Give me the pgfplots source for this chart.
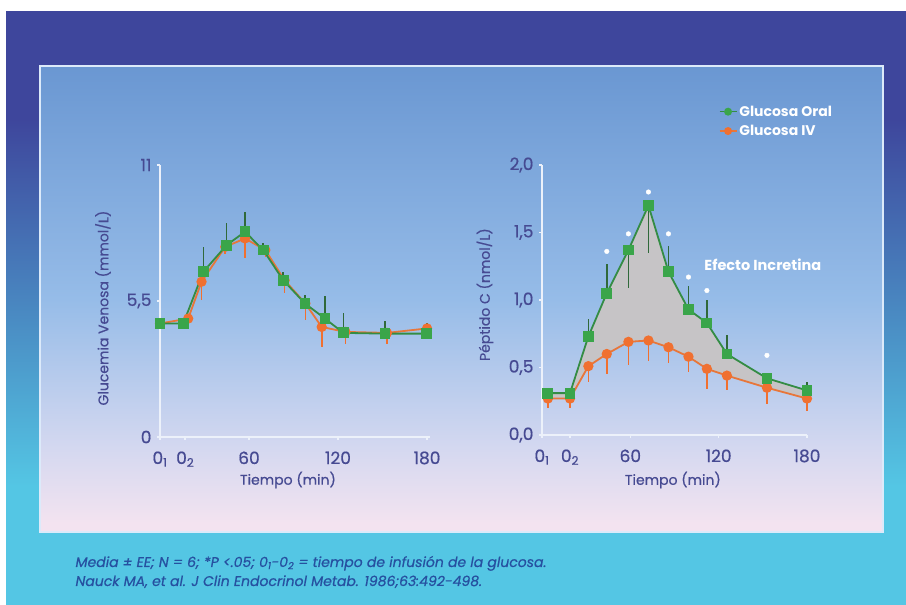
\documentclass[border=0pt]{standalone}
\usepackage{pgfplots}
\usepackage{pgfplotstable}
\pgfplotsset{compat=1.18}
\usepackage{fontspec}
\setmainfont{Poppins}
\newfontfamily\medfont{Poppins}[FakeBold=0.6]

\definecolor{dblue}{RGB}{62,70,156}
\definecolor{cyanbg}{RGB}{84,198,228}
\definecolor{ptop}{RGB}{106,151,210}
\definecolor{pmid}{RGB}{150,188,232}
\definecolor{plav}{RGB}{212,216,240}
\definecolor{pbot}{RGB}{243,227,240}
\definecolor{lblue}{RGB}{70,74,146}
\definecolor{gmark}{RGB}{58,165,74}
\definecolor{gline}{RGB}{52,140,68}
\definecolor{gerr}{RGB}{48,105,58}
\definecolor{omark}{RGB}{240,112,48}
\definecolor{oline}{RGB}{232,118,58}
\definecolor{fillg}{RGB}{198,196,198}
\definecolor{axw}{RGB}{236,241,250}
\definecolor{foot}{RGB}{38,80,160}
\definecolor{bord}{RGB}{220,234,250}

\pgfdeclareverticalshading{outerbg}{100bp}{color(0bp)=(cyanbg); color(35bp)=(cyanbg); color(66bp)=(dblue); color(100bp)=(dblue)}
\pgfdeclareverticalshading{panelbg}{100bp}{color(0bp)=(pbot); color(26bp)=(pbot); color(34bp)=(plav); color(50bp)=(pmid); color(75bp)=(ptop); color(100bp)=(ptop)}

\pgfplotstableread{
t v ep em
0 4.59 0.15 0
15.7 4.59 0.15 0
29.2 6.68 1.0 0
44.9 7.76 0.9 0
57.3 8.30 0.8 0
69.6 7.56 0.3 0
83.1 6.34 0.35 0
97.7 5.40 0.35 0
111.2 4.79 0.9 0
123.6 4.21 0.8 0
151.7 4.18 0.5 0
179.8 4.18 0.45 0
}\LeftOral

\pgfplotstableread{
t v ep em
0 4.59 0 0.1
19 4.79 0 0.1
28 6.28 0 0.75
44 7.69 0 0.3
57.3 8.03 0 0.8
71 7.56 0 0.3
84 6.34 0 0.5
98 5.40 0 0.68
109 4.45 0 0.81
125 4.25 0 0.47
153 4.21 0 0.43
180 4.39 0 0.2
}\LeftIV

\pgfplotstableread{
t v ep em
4 0.31 0.03 0.03
19 0.31 0.03 0.03
31.5 0.73 0.13 0
44 1.05 0.22 0
58.7 1.37 0 0.28
72.3 1.70 0 0.35
85.9 1.21 0.19 0
99.5 0.93 0.17 0
112 0.83 0.17 0
125.6 0.60 0.14 0
152.8 0.42 0.03 0.03
180 0.33 0.06 0
}\RightOral

\pgfplotstableread{
t v ep em
4 0.27 0 0.07
19 0.27 0 0.07
31.5 0.51 0 0.12
44 0.60 0 0.15
58.7 0.69 0 0.17
72.3 0.70 0 0.15
85.9 0.65 0 0.12
99.5 0.58 0 0.11
112 0.49 0 0.15
125.6 0.44 0 0.11
152.8 0.35 0 0.12
180 0.27 0 0.09
}\RightIV

% band between the two C-peptide curves (oral, then IV reversed)
\pgfplotstableread{
t v
4 0.31
19 0.31
31.5 0.73
44 1.05
58.7 1.37
72.3 1.70
85.9 1.21
99.5 0.93
112 0.83
125.6 0.60
152.8 0.42
180 0.33
180 0.27
152.8 0.35
125.6 0.44
112 0.49
99.5 0.58
85.9 0.65
72.3 0.70
58.7 0.69
44 0.60
31.5 0.51
19 0.27
4 0.27
}\Band

\pgfplotstableread{
t v
44 1.36
58.7 1.49
72.3 1.80
85.9 1.49
99.5 1.17
112 1.07
152.8 0.59
}\Stars

\pgfplotsset{
  slide/.style={
    scale only axis, clip=false,
    axis x line*=bottom, axis y line*=left,
    axis line style={-, axw, line width=2pt},
    tick style={axw, line width=1.5pt},
    major tick length=3pt, tick align=outside,
    ticklabel style={font=\medfont\fontsize{17}{20}\selectfont, text=lblue},
    label style={font=\medfont\fontsize{14}{17}\selectfont, text=lblue},
    xticklabel style={yshift=-8pt},
    yticklabel style={xshift=-2pt},
  },
  oral/.style={gline, line width=1.8pt, mark=square*, mark size=4.5pt,
    mark options={solid, fill=gmark, draw=gmark},
    /pgfplots/error bars/y dir=both, /pgfplots/error bars/y explicit,
    /pgfplots/error bars/error mark=none,
    /pgfplots/error bars/error bar style={line width=1.6pt, gerr}},
  iv/.style={oline, line width=1.8pt, mark=*, mark size=4.2pt,
    mark options={solid, fill=omark, draw=omark},
    /pgfplots/error bars/y dir=both, /pgfplots/error bars/y explicit,
    /pgfplots/error bars/error mark=none,
    /pgfplots/error bars/error bar style={line width=1.6pt, omark}},
}

\begin{document}
\begin{tikzpicture}
\fill[white] (0,0) rectangle (906pt,605pt);
\shade[shading=outerbg] (6pt,0pt) rectangle (906pt,593pt);
\shade[shading=panelbg] (40pt,73pt) rectangle (883pt,539pt);
\draw[bord, line width=2.5pt] (40pt,73pt) rectangle (883pt,539pt);

% left chart
\begin{axis}[slide,
  at={(160pt,168pt)}, anchor=south west,
  width=270pt, height=272pt,
  xmin=0, xmax=182, ymin=0, ymax=11,
  xtick={0,17,60,120,180},
  xticklabels={0\textsubscript{1},0\textsubscript{2},60,120,180},
  ytick={0,5.5,11}, yticklabels={0,{5,5},11},
  xlabel={Tiempo (min)},
  ylabel={Glucemia Venosa (mmol/L)},
  xlabel style={at={(axis description cs:0.474,-0.158)}, anchor=center},
  ylabel style={at={(axis description cs:-0.211,0.474)}, anchor=center},
]
\addplot[iv] table[x=t, y=v, y error plus=ep, y error minus=em] {\LeftIV};
\addplot[oral] table[x=t, y=v, y error plus=ep, y error minus=em] {\LeftOral};
\end{axis}

% right chart
\begin{axis}[slide,
  at={(542pt,170pt)}, anchor=south west,
  width=265pt, height=270pt,
  xmin=0, xmax=180, ymin=0, ymax=2,
  xtick={0,19,60,120,180},
  xticklabels={0\textsubscript{1},0\textsubscript{2},60,120,180},
  ytick={0,0.5,1,1.5,2}, yticklabels={{0,0},{0,5},{1,0},{1,5},{2,0}},
  xlabel={Tiempo (min)},
  ylabel={Péptido C (nmol/L)},
  xlabel style={at={(axis description cs:0.494,-0.167)}, anchor=center},
  ylabel style={at={(axis description cs:-0.215,0.52)}, anchor=center},
  legend style={at={(0.655,1.235)}, anchor=north west, draw=none, fill=none,
    font=\fontsize{14}{16}\selectfont\bfseries, text=white, row sep=3.5pt},
  legend cell align=left,
]
\addplot[fill=fillg, draw=none, forget plot] table[x=t, y=v] {\Band};
\addplot[forget plot, iv] table[x=t, y=v, y error plus=ep, y error minus=em] {\RightIV};
\addplot[forget plot, oral] table[x=t, y=v, y error plus=ep, y error minus=em] {\RightOral};
\addplot[only marks, mark=*, mark size=2.3pt, white, forget plot] table[x=t, y=v] {\Stars};
\node[text=white, font=\fontsize{14.5}{17}\selectfont\bfseries] at (axis cs:150,1.26) {Efecto Incretina};
\addlegendimage{gline, line width=1.5pt, mark=*, mark size=3.2pt, mark options={fill=gmark, draw=gmark}}
\addlegendentry{Glucosa Oral}
\addlegendimage{oline, line width=1.5pt, mark=*, mark size=3.2pt, mark options={fill=omark, draw=omark}}
\addlegendentry{Glucosa IV}
\end{axis}

\node[anchor=base west, text=foot, font=\medfont\itshape\fontsize{14}{16}\selectfont] at (72pt,38pt)
  {Media ± EE; N = 6; *P <.05; 0\textsubscript{1}-0\textsubscript{2} = tiempo de infusión de la glucosa.};
\node[anchor=base west, text=foot, font=\medfont\itshape\fontsize{14}{16}\selectfont] at (72pt,19pt)
  {Nauck MA, et al. J Clin Endocrinol Metab. 1986;63:492-498.};
\pgfresetboundingbox
\useasboundingbox (0,0) rectangle (906pt,605pt);
\end{tikzpicture}
\end{document}
